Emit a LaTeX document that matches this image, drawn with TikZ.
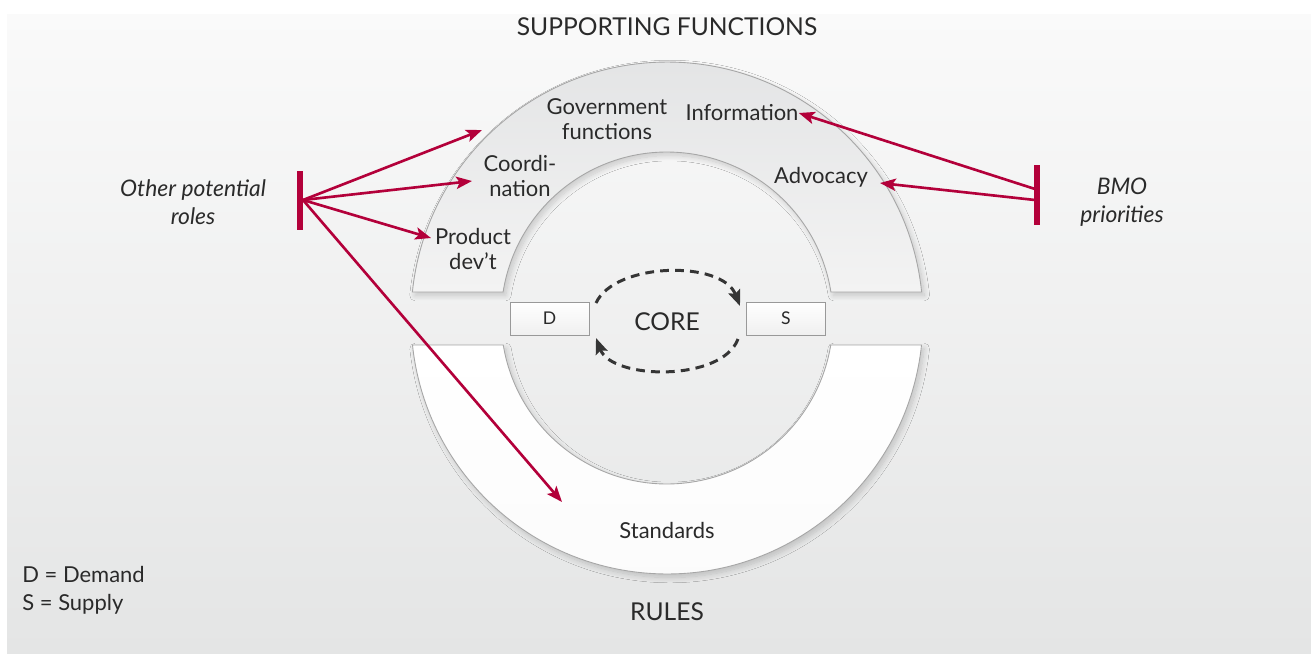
\documentclass[tikz,border=0pt]{standalone}
\usepackage{fontspec}
\setmainfont{Lato}
\usetikzlibrary{arrows.meta,shadows.blur,calc}
\definecolor{crim}{HTML}{B3003A}
\definecolor{txt}{HTML}{2A2A2A}
\definecolor{bgtop}{HTML}{FAFAFA}
\definecolor{bgbot}{HTML}{E4E5E5}
\definecolor{bandtop}{HTML}{E3E4E5}
\definecolor{bandbot}{HTML}{F3F3F3}
\definecolor{dashgray}{HTML}{353535}
\tikzset{
  lbl/.style={text=txt,font=\fontsize{12.5}{14.5}\selectfont,align=center,inner sep=0pt},
  titletxt/.style={text=txt,font=\fontsize{14}{16}\selectfont,inner sep=0pt},
  role/.style={text=txt,font=\fontsize{13}{16}\selectfont\itshape,align=center,inner sep=0pt},
  bar/.style={fill=crim,draw=none,minimum width=3.4pt,inner sep=0pt},
  redarrow/.style={crim,line width=1.5pt,-{Stealth[length=9pt,width=7pt,inset=2pt]}},
  dasharrow/.style={dashgray,line width=1.7pt,dash pattern=on 5pt off 3.5pt,-{Stealth[length=9pt,width=7pt,inset=1.5pt]}},
  dsbox/.style={draw=gray!80,line width=0.5pt,top color=white,bottom color=gray!12,minimum width=1.58cm,minimum height=0.66cm,inner sep=0pt,text=txt,font=\fontsize{10}{12}\selectfont},
  band/.style={draw=gray!70,line width=0.5pt,blur shadow={shadow xshift=1.5pt,shadow yshift=-2pt,shadow blur steps=12,shadow blur radius=3pt,shadow opacity=18}}
}
\begin{document}
\begin{tikzpicture}[x=0.02cm,y=0.02cm]
\useasboundingbox (0,0) rectangle (1311,-653);
\fill[white] (0,0) rectangle (1311,-653);
\fill[top color=bgtop,bottom color=bgbot] (7,-14) rectangle (1311,-653);
\coordinate (C) at (667,-318);
% top band
\path[band,top color=bandtop,bottom color=bandbot]
  ($(C)+(5.83:5.12cm)$) arc[start angle=5.83,end angle=174.17,radius=5.12cm]
  -- ($(C)+(170.99:3.32cm)$) arc[start angle=170.99,end angle=9.01,radius=3.32cm] -- cycle;
% bottom band
\path[band,top color=white,bottom color=white!97!gray]
  ($(C)+(-6.05:5.12cm)$) arc[start angle=-6.05,end angle=-173.95,radius=5.12cm]
  -- ($(C)+(-170.64:3.32cm)$) arc[start angle=-170.64,end angle=-9.36,radius=3.32cm] -- cycle;
% texts
\node[titletxt] (sf) at (667,-27) {SUPPORTING FUNCTIONS};
\node[titletxt] (rules) at (667,-612) {RULES};
\node[titletxt] (core) at (667,-322) {CORE};
\node[lbl] (gov) at (607,-119) {Government\\functions};
\node[lbl] (info) at (742,-113) {Information};
\node[lbl] (coord) at (520,-176) {Coordi-\\nation};
\node[lbl] (prod) at (473,-249) {Product\\dev't};
\node[lbl] (adv) at (821,-177) {Advocacy};
\node[lbl] (std) at (667,-530) {Standards};
\node[role] (other) at (193,-202) {Other potential\\roles};
\node[role] (bmo) at (1122,-202) {BMO\\priorities};
\node[lbl,anchor=west] (legD) at (22,-574) {D = Demand};
\node[lbl,anchor=west] (legS) at (22,-604) {S = Supply};
% D/S boxes
\node[dsbox] (D) at (549.5,-318.5) {D};
\node[dsbox] (S) at (786,-318.5) {S};
% dashed cycle
\coordinate (d1) at (596,-303);
\coordinate (s1) at (740,-306);
\coordinate (s2) at (738,-339);
\coordinate (d2) at (596,-338);
\draw[dasharrow] (d1) .. controls (615,-262) and (722,-260) .. (s1);
\draw[dasharrow] (s2) .. controls (722,-382) and (612,-380) .. (d2);
% bars
\node[bar,minimum height=1.18cm] (lbar) at (300,-200) {};
\node[bar,minimum height=1.2cm] (rbar) at (1037,-195) {};
\coordinate (lo) at (303,-200);
\coordinate (ro1) at (1035,-189);
\coordinate (ro2) at (1035,-200);
\coordinate (tGov) at (482,-130);
\coordinate (tCoord) at (472,-181);
\coordinate (tProd) at (431,-238);
\coordinate (tStd) at (562,-502);
\coordinate (tAdv) at (880,-183);
\draw[redarrow] (lo) -- (tGov);
\draw[redarrow] (lo) -- (tCoord);
\draw[redarrow] (lo) -- (tProd);
\draw[redarrow] (lo) -- (tStd);
\draw[redarrow] (ro1) -- (info.east);
\draw[redarrow] (ro2) -- (tAdv);
\end{tikzpicture}
\end{document}
